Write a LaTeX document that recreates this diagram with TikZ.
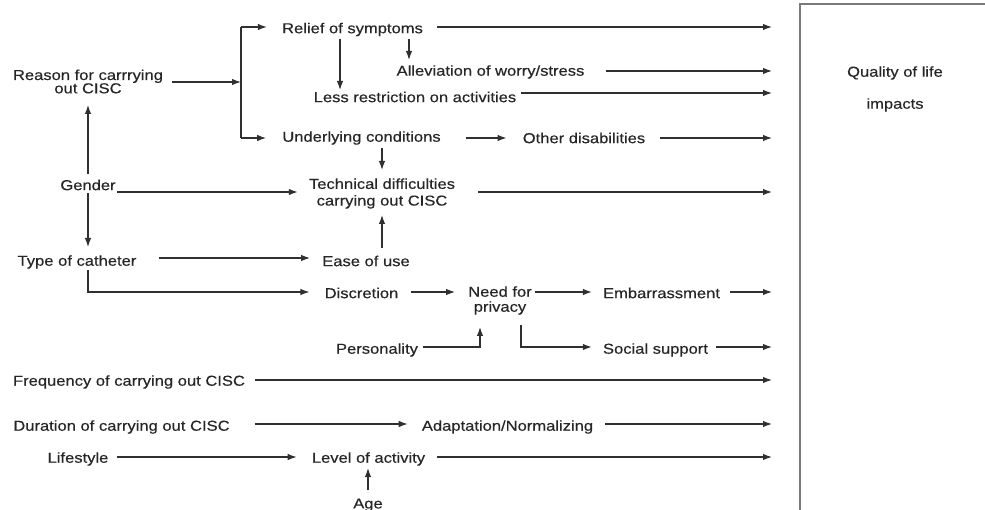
\documentclass[tikz,border=0pt]{standalone}
\usepackage{fontspec}
\setmainfont[FakeStretch=1.15,FakeBold=0.4]{Liberation Sans}
\usetikzlibrary{arrows.meta,calc}
\definecolor{tc}{HTML}{262626}
\definecolor{lc}{HTML}{303030}
\definecolor{bc}{HTML}{7A7A7A}
\begin{document}
\begin{tikzpicture}[x=1pt,y=-1pt,
  txt/.style={font=\fontsize{14.4}{15}\selectfont, text=tc, inner sep=0pt, align=center},
  arr/.style={draw=lc, line width=1.2pt, -{Latex[length=9pt,width=6.5pt]}},
  plain/.style={draw=lc, line width=1.2pt}]
\useasboundingbox (0,0) rectangle (985,510);
% box
\draw[bc, line width=1.8pt] (800,520) -- (800,4) -- (995,4);
\node[txt, font=\fontsize{14.4}{32}\selectfont] (qol) at (895,89) {Quality of life\\impacts};
% nodes
\node[txt, font=\fontsize{14.4}{13.3}\selectfont] (reason) at (88,81.5) {Reason for carrrying\\out CISC};
\node[txt] (relief) at (352.5,29.5) {Relief of symptoms};
\node[txt] (allev) at (490.5,72) {Alleviation of worry/stress};
\node[txt] (lessr) at (415,97) {Less restriction on activities};
\node[txt] (under) at (361.5,138) {Underlying conditions};
\node[txt] (other) at (584,138) {Other disabilities};
\node[txt, font=\fontsize{14.4}{16.7}\selectfont] (tech) at (382,193.5) {Technical difficulties\\carrying out CISC};
\node[txt] (gender) at (88,185) {Gender};
\node[txt] (typec) at (77,262) {Type of catheter};
\node[txt] (ease) at (366,261) {Ease of use};
\node[txt] (discr) at (361.5,293) {Discretion};
\node[txt, font=\fontsize{14.4}{15}\selectfont] (need) at (500,300.5) {Need for\\privacy};
\node[txt] (embar) at (661.5,293) {Embarrassment};
\node[txt] (person) at (377,350) {Personality};
\node[txt] (social) at (655.5,350) {Social support};
\node[txt] (freq) at (129,382) {Frequency of carrying out CISC};
\node[txt] (dur) at (121.5,427) {Duration of carrying out CISC};
\node[txt] (adapt) at (507.5,427) {Adaptation/Normalizing};
\node[txt] (life) at (78,459) {Lifestyle};
\node[txt] (level) at (368.5,459) {Level of activity};
\node[txt] (age) at (368,505) {Age};
% coordinates
\coordinate (E) at (772,0);
\coordinate (br1) at (241,27);
\coordinate (br2) at (241,138);
\coordinate (brm) at (241,82);
% connectors
\draw[arr] ($(reason.east)+(9,0.5)$) -- (brm);
\draw[plain] (br1) -- (br2);
\draw[arr] (br1) -- ($(relief.west)+(-15,-2.5)$);
\draw[arr] (br2) -- ($(under.west)+(-16,0)$);
\draw[arr] ($(relief.east)+(14,-2.5)$) -- ($(relief.east -| E)+(0,-2.5)$);
\draw[arr] ($(relief.center -| 340,0)+(0,9.5)$) -- ($(lessr.center -| 340,0)+(0,-7)$);
\draw[arr] ($(relief.center -| 409,0)+(0,9.5)$) -- ($(allev.center -| 409,0)+(0,-12)$);
\draw[arr] ($(allev.east)+(21,-1)$) -- ($(allev.east -| E)+(0,-1)$);
\draw[arr] ($(lessr.east)+(5,-4)$) -- ($(lessr.east -| E)+(0,-4)$);
\draw[arr] ($(under.east)+(25,0)$) -- ($(other.west)+(-16,0)$);
\draw[arr] ($(other.east)+(15,0)$) -- (other.east -| E);
\draw[arr] ($(under.center -| tech.center)+(0,10)$) -- ($(tech.center)+(0,-23.5)$);
\draw[arr] ($(tech.east)+(23,-1.5)$) -- ($(tech.east -| E)+(0,-1.5)$);
\draw[arr] ($(gender.east)+(1,7)$) -- ($(gender.east -| tech.west)+(-11,7)$);
\draw[arr] ($(gender.center)+(0,-11)$) -- ($(reason.center)+(0,23.5)$);
\draw[arr] ($(gender.center)+(0,8)$) -- ($(gender.center |- typec.center)+(0,-15)$);
\draw[arr] ($(typec.east)+(22,-4)$) -- ($(ease.west)+(-12,-3)$);
\draw[arr] ($(ease.center -| tech.center)+(0,-13)$) -- ($(tech.center)+(0,21.5)$);
\draw[arr] ($(typec.center)+(11,8)$) |- ($(discr.west)+(-15,-1)$);
\draw[arr] ($(discr.east)+(12,-1)$) -- ($(need.west)+(-13,-8.5)$);
\draw[arr] ($(need.east)+(3,-8.5)$) -- ($(embar.west)+(-11,-1)$);
\draw[arr] ($(embar.east)+(10,-1)$) -- ($(embar.east -| E)+(0,-1)$);
\draw[arr] ($(person.east)+(5,-3)$) -| ($(need.center)+(-20,26.5)$);
\draw[arr] ($(need.center)+(21,24.5)$) |- ($(social.west)+(-11,-3)$);
\draw[arr] ($(social.east)+(8,-3)$) -- ($(social.east -| E)+(0,-3)$);
\draw[arr] ($(freq.east)+(10,-2)$) -- ($(freq.east -| E)+(0,-2)$);
\draw[arr] ($(dur.east)+(25,-3)$) -- ($(adapt.west)+(-14,-3)$);
\draw[arr] ($(adapt.east)+(12,-3)$) -- ($(adapt.east -| E)+(0,-3)$);
\draw[arr] ($(life.east)+(8,-2)$) -- ($(level.west)+(-15,-2)$);
\draw[arr] ($(level.east)+(12,-2)$) -- ($(level.east -| E)+(0,-2)$);
\draw[arr] ($(age.center)+(0,-15)$) -- ($(level.center -| age.center)+(0,9)$);
\end{tikzpicture}
\end{document}
